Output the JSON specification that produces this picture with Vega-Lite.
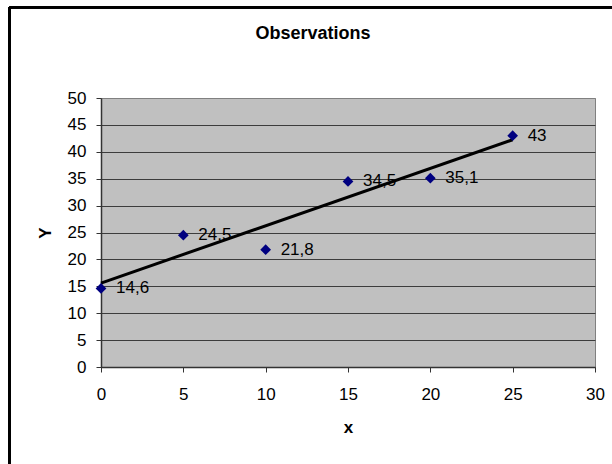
{
  "$schema": "https://vega.github.io/schema/vega-lite/v6.json",
  "width": 494,
  "height": 269,
  "autosize": {"type": "none"},
  "padding": {"left": 101, "top": 98, "right": 17, "bottom": 97},
  "background": "white",
  "title": {
    "text": "Observations",
    "font": "Liberation Sans",
    "fontSize": 18,
    "fontWeight": "bold",
    "color": "black",
    "frame": "group",
    "anchor": "middle",
    "baseline": "alphabetic",
    "offset": -51,
    "dx": -35
  },
  "config": {
    "locale": {"number": {"decimal": ",", "thousands": ".", "grouping": [3], "currency": ["", " €"]}},
    "view": {"fill": "#c0c0c0", "stroke": "#808080", "strokeWidth": 1},
    "axis": {
      "labelFont": "Liberation Sans",
      "labelFontSize": 17,
      "labelColor": "black",
      "labelOverlap": false,
      "labelFlush": false,
      "titleFont": "Liberation Sans",
      "titleFontSize": 17,
      "titleFontWeight": "bold",
      "titleColor": "black",
      "domainColor": "#333333",
      "domainWidth": 1.5,
      "tickColor": "#333333",
      "tickSize": 5,
      "tickWidth": 1
    }
  },
  "data": {
    "values": [
      {"x": 0, "y": 14.6},
      {"x": 5, "y": 24.5},
      {"x": 10, "y": 21.8},
      {"x": 15, "y": 34.5},
      {"x": 20, "y": 35.1},
      {"x": 25, "y": 43}
    ]
  },
  "resolve": {
    "scale": {"x": "independent", "y": "independent"},
    "axis": {"x": "independent", "y": "independent"}
  },
  "layer": [
    {
      "encoding": {
        "x": {
          "field": "x", "type": "quantitative", "title": "x",
          "scale": {"domain": [0, 30], "nice": false},
          "axis": {"values": [0, 5, 10, 15, 20, 25, 30], "grid": false, "labelPadding": 14, "titlePadding": 17}
        },
        "y": {
          "field": "y", "type": "quantitative", "title": "Y",
          "scale": {"domain": [0, 50], "nice": false},
          "axis": {
            "values": [0, 5, 10, 15, 20, 25, 30, 35, 40, 45, 50],
            "grid": true,
            "gridColor": {"condition": {"test": "datum.value == 50", "value": "#808080"}, "value": "#3c3c3c"},
            "gridWidth": 1,
            "labelPadding": 10,
            "titlePadding": 13
          }
        }
      },
      "layer": [
        {
          "mark": {"type": "line", "color": "black", "strokeWidth": 3},
          "transform": [{"regression": "y", "on": "x"}],
          "encoding": {}
        },
        {
          "mark": {"type": "point", "shape": "diamond", "filled": true, "color": "#000080", "size": 115, "opacity": 1},
          "encoding": {}
        },
        {
          "mark": {"type": "text", "align": "left", "baseline": "middle", "dx": 15, "font": "Liberation Sans", "fontSize": 17, "color": "black"},
          "encoding": {
            "text": {"field": "y", "type": "quantitative", "format": ""}
          }
        }
      ]
    },
    {
      "encoding": {
        "x": {"datum": -5.55, "type": "quantitative", "scale": {"domain": [0, 30], "nice": false}, "axis": null},
        "y": {"datum": 66.85, "type": "quantitative", "scale": {"domain": [0, 50], "nice": false}, "axis": null}
      },
      "layer": [
        {
          "mark": {"type": "rule", "color": "black", "strokeWidth": 2.5, "clip": false},
          "encoding": {"y2": {"datum": -100}}
        },
        {
          "mark": {"type": "rule", "color": "black", "strokeWidth": 2.5, "clip": false},
          "encoding": {"x2": {"datum": 32}}
        }
      ]
    }
  ]
}
